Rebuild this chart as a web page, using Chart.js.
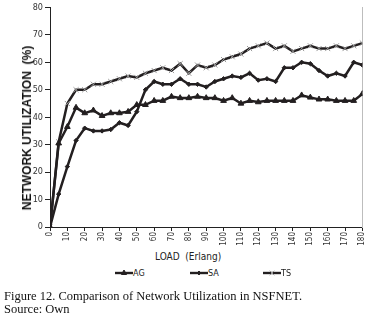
<!DOCTYPE html>
<html><head><meta charset="utf-8">
<script src="https://cdn.jsdelivr.net/npm/chart.js@4.4.1/dist/chart.umd.min.js"></script>
<style>
html,body{margin:0;padding:0;background:#fff;width:373px;height:319px;overflow:hidden;}
#wrap{position:absolute;left:0;top:0;width:373px;height:250px;}
#xt{position:absolute;top:251px;left:155px;font:10px 'Liberation Sans Narrow','DejaVu Sans Condensed',sans-serif;color:#222;white-space:nowrap;}
#yt{position:absolute;left:27px;top:128px;width:0;height:0;}
#yt span{position:absolute;left:0;top:0;transform:translate(-50%,-50%) rotate(-90deg);white-space:nowrap;font:bold 12px 'Liberation Sans',Arial,sans-serif;color:#111;line-height:14px;}
#legend{position:absolute;top:267px;left:0;width:373px;height:14px;}
.li{position:absolute;top:0;height:12px;display:flex;align-items:center;font:9px 'Liberation Sans Narrow','DejaVu Sans Condensed',sans-serif;color:#222;}
.li canvas{display:block;margin-right:0px;}
.cap{position:absolute;left:4px;font:12.5px 'Liberation Serif','Times New Roman',serif;color:#111;white-space:nowrap;line-height:13px;}
</style></head><body>
<div id="wrap"><canvas id="c" width="373" height="250"></canvas></div>
<div id="xt">LOAD &nbsp;(Erlang)</div>
<div id="yt"><span>NETWORK UTILIZATION &nbsp;(%)</span></div>
<div id="legend"></div>
<div class="cap" style="top:290px">Figure 12. Comparison of Network Utilization in NSFNET.</div>
<div class="cap" style="top:303px">Source: Own</div>
<script>
const LOAD = [0,5,10,15,20,25,30,35,40,45,50,55,60,65,70,75,80,85,90,95,100,105,110,115,120,125,130,135,140,145,150,155,160,165,170,175,180];
const AG = [0,30.5,36.5,43.5,41.5,42.5,40.5,41.5,41.5,42,44.5,44.5,46,46,47.5,47,47,47.5,47,47,46,47,45,46,45.5,46,46,46,46,48,47.2,46.5,46.5,46,46,46,48.5];
const SA = [0,12,22,31.5,36,35,35,35.5,38,37,42,50,53,52,52,54,52,52,51,53,54,55,54.5,56,53.5,54,53,58,58,60,59.5,57,55,56,55,60,59];
const TS = [0,31,45,50,50,52,52,53,54,55,54.5,56,57,58,57,59.5,56,59,58,59,61,62,63,65,66,67,65,66,64,65,66,65,65,66,65,66,67];
const SERIES_NAMES = ['AG','SA','TS'];
const X_TICKS = {min:0, max:180, step:10};
const Y_TICKS = {min:0, max:80, step:10};

const LINE = '#231f20';
const NARROW = "'Liberation Sans Narrow','DejaVu Sans Condensed',sans-serif";
const styles = [
  {pointStyle:'triangle', radius:3.3, bg:LINE, bc:LINE, bw:1},
  {pointStyle:'rectRot', radius:2.2, bg:LINE, bc:LINE, bw:1},
  {pointStyle:'crossRot', radius:3.6, bg:'#9a9a9a', bc:'#9a9a9a', bw:1}
];
const seriesVals = [AG, SA, TS];
const datasets = seriesVals.map((vals,i)=>({
  label: SERIES_NAMES[i],
  data: LOAD.map((x,k)=>({x:x, y:vals[k]})),
  borderColor: LINE,
  borderWidth: 2.5,
  tension: 0,
  pointStyle: styles[i].pointStyle,
  pointRadius: styles[i].radius,
  pointBackgroundColor: styles[i].bg,
  pointBorderColor: styles[i].bc,
  pointBorderWidth: styles[i].bw,
  fill: false
}));

new Chart(document.getElementById('c'), {
  type: 'line',
  data: {datasets},
  options: {
    responsive: false,
    animation: false,
    events: [],
    layout: {padding: {left: 18, right: 10, top: 7, bottom: 0}},
    plugins: {legend: {display: false}, tooltip: {enabled: false}},
    scales: {
      x: {
        type: 'linear', min: X_TICKS.min, max: X_TICKS.max,
        afterFit: s => { s.height = 23; },
        ticks: {stepSize: X_TICKS.step, minRotation: 90, maxRotation: 90, padding: 1,
                font: {family: NARROW, size: 8}, color: '#333'},
        grid: {drawOnChartArea: false, tickLength: 4, color: '#222'},
        border: {color: '#222', width: 1}
      },
      y: {
        min: Y_TICKS.min, max: Y_TICKS.max,
        afterFit: s => { s.width = 32; },
        ticks: {stepSize: Y_TICKS.step, padding: 2, font: {family: NARROW, size: 9}, color: '#333'},
        grid: {drawOnChartArea: false, tickLength: 5, color: '#222'},
        border: {color: '#222', width: 1}
      },
      y2: {
        position: 'right', min: Y_TICKS.min, max: Y_TICKS.max,
        afterFit: s => { s.width = 0; },
        ticks: {display: false},
        grid: {drawOnChartArea: false, drawTicks: false, tickLength: 0},
        border: {color: '#bdbdbd', width: 1}
      }
    }
  }
});

// legend (HTML text + small drawn icons)
const legendPos = [115, 190, 263];
const lg = document.getElementById('legend');
SERIES_NAMES.forEach((name,i)=>{
  const item = document.createElement('div');
  item.className = 'li';
  item.style.left = legendPos[i] + 'px';
  const cv = document.createElement('canvas');
  cv.width = 18; cv.height = 12;
  const ctx = cv.getContext('2d');
  ctx.strokeStyle = LINE; ctx.lineWidth = 2.4;
  ctx.beginPath(); ctx.moveTo(0,6); ctx.lineTo(18,6); ctx.stroke();
  ctx.fillStyle = styles[i].bg; ctx.strokeStyle = styles[i].bc; ctx.lineWidth = styles[i].bw;
  Chart.helpers.drawPoint(ctx, {pointStyle: styles[i].pointStyle, radius: styles[i].radius * 0.9, borderWidth: styles[i].bw}, 9, 6);
  const sp = document.createElement('span');
  sp.textContent = name;
  item.appendChild(cv); item.appendChild(sp);
  lg.appendChild(item);
});
</script>
</body></html>
